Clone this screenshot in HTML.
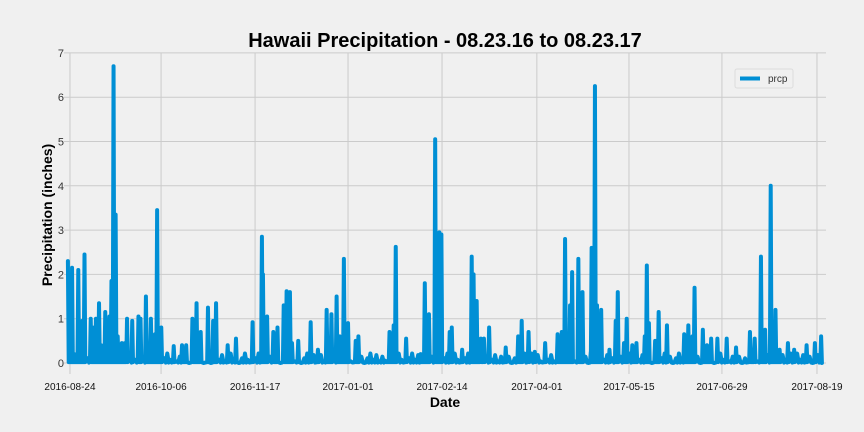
<!DOCTYPE html>
<html><head><meta charset="utf-8"><style>
body{margin:0;background:#f0f0f0;font-family:"Liberation Sans",sans-serif;}
svg{display:block}
</style></head><body>
<svg id="chart" width="864" height="432">
<rect width="864" height="432" fill="#f0f0f0"/>
<text x="445" y="47" text-anchor="middle" font-size="20" font-weight="bold" fill="#000">Hawaii Precipitation - 08.23.16 to 08.23.17</text>
<text x="445" y="407" text-anchor="middle" font-size="14" font-weight="bold" fill="#000">Date</text>
<text transform="translate(52,215) rotate(-90)" text-anchor="middle" font-size="14" font-weight="bold" fill="#000">Precipitation (inches)</text>
<g id="grid"></g><g id="ticks"></g><g id="series"></g>
<g>
<rect x="735" y="69" width="58" height="19" rx="2" fill="#f0f0f0" stroke="#dcdcdc"/>
<line x1="740" y1="78.5" x2="760" y2="78.5" stroke="#008fd5" stroke-width="4"/>
<text x="768" y="82" font-size="10" fill="#333">prcp</text>
</g>
</svg>
<script>
const tickLabels=["2016-08-24","2016-10-06","2016-11-17","2017-01-01","2017-02-14","2017-04-01","2017-05-15","2017-06-29","2017-08-19"];
const tickIndex=[1,44.9,90.2,135,180.3,226,270.4,315.2,361];
const yTicks=[0,1,2,3,4,5,6,7];
const idx=[0,2,3,5,7,8,11,12,13.5,15,16,18,20,21,22,23,24,26,27.5,28.5,31,34,35,37.6,40,42,43,45,51,55,57,60,62,64,67.5,70,71.4,77,81,89,93.5,94,96,99,101,104,105.4,107,108,111,117,120.5,124.7,127,129.5,131,133,135,138.7,140,153,155,157,158,163,170,172,174,177,179,180,184,185,190,194.6,195.5,197,199,200.5,203,211,217,218.7,222,225,230,236,238,239.6,242,243,246,248,252,252.4,254,255,257,261,264,265,268,269.3,272,274,278,279,280,283,284.7,288.7,297,299,301,302,306,308,310,313,317.5,322,328.7,331,334,336,338.7,341,343,347,350,356,360,363];
const prcp=[2.3,2.15,0.2,2.1,0.95,2.45,1.0,0.8,1.0,1.35,0.4,1.15,1.05,1.85,6.7,3.35,0.6,0.45,0.45,1.0,0.95,1.05,1.0,1.5,1.0,0.65,3.45,0.8,0.38,0.4,0.4,1.0,1.35,0.7,1.25,0.95,1.35,0.4,0.55,0.92,2.85,2.0,1.05,0.7,0.8,1.3,1.62,1.6,0.45,0.5,0.92,0.3,1.2,1.1,1.5,0.6,2.35,0.9,0.5,0.6,0.05,0.7,0.85,2.62,0.55,0.2,1.8,1.1,5.05,2.95,2.9,0.7,0.8,0.3,2.4,2.0,1.4,0.55,0.55,0.8,0.35,0.6,0.95,0.7,0.25,0.45,0.65,0.7,2.8,1.3,2.05,2.35,1.6,0.25,2.6,6.25,1.3,1.2,0.3,0.95,1.6,0.45,1.0,0.4,0.45,0.6,2.2,0.9,0.5,1.15,0.85,0.65,0.85,0.6,1.7,0.75,0.4,0.55,0.55,0.55,0.35,0.7,0.55,2.4,0.75,4.0,1.2,0.3,0.45,0.3,0.4,0.45,0.6];
const NS="http://www.w3.org/2000/svg";
const X0=67.9,KX=2.075,Y0=363,KY=44.3;
function xs(i){return X0+i*KX;}
function ys(v){return Y0-v*KY;}
const grid=document.getElementById('grid'),ticks=document.getElementById('ticks'),series=document.getElementById('series');
yTicks.forEach(v=>{
 const l=document.createElementNS(NS,'line');
 l.setAttribute('x1',64);l.setAttribute('x2',826);l.setAttribute('y1',ys(v));l.setAttribute('y2',ys(v));
 l.setAttribute('stroke','#cbcbcb');l.setAttribute('stroke-width','1');
 
 
 grid.appendChild(l);
 const t=document.createElementNS(NS,'text');
 t.setAttribute('x',64);t.setAttribute('y',ys(v)+4);t.setAttribute('text-anchor','end');t.setAttribute('font-size','11');t.setAttribute('fill','#333');
 t.textContent=v;
 
 
 ticks.appendChild(t);
});
tickIndex.forEach((p,i)=>{
 const l=document.createElementNS(NS,'line');
 l.setAttribute('x1',xs(p));l.setAttribute('x2',xs(p));l.setAttribute('y1',53);l.setAttribute('y2',374);
 l.setAttribute('stroke','#cbcbcb');l.setAttribute('stroke-width','1');
 
 
 grid.appendChild(l);
 const t=document.createElementNS(NS,'text');
 t.setAttribute('x',xs(p));t.setAttribute('y',390);t.setAttribute('text-anchor','middle');t.setAttribute('font-size','10');t.setAttribute('fill','#111');
 t.textContent=tickLabels[i];
 
 
 ticks.appendChild(t);
});
let d='M'+xs(idx[0])+','+ys(prcp[0]);
for(let i=1;i<idx.length;i++){
 const xp=xs(idx[i-1]),xc=xs(idx[i]);
 d+=' L'+(xp+0.8)+','+ys(0.02);
 for(let x=xp+3;x<xc-2;x+=3){d+=' L'+x+','+ys(((x|0)%7)/28)+' L'+(x+1.5)+','+ys(0.01);}
 d+=' L'+(xc-0.8)+','+ys(0.02)+' L'+xc+','+ys(prcp[i]);
}
d+=' L'+(xs(idx[idx.length-1])+0.8)+','+ys(0);
const path=document.createElementNS(NS,'path');
path.setAttribute('d',d);path.setAttribute('fill','none');path.setAttribute('stroke','#008fd5');
path.setAttribute('stroke-width','4');path.setAttribute('stroke-linejoin','round');path.setAttribute('stroke-linecap','round');


series.appendChild(path);
</script>
</body></html>
